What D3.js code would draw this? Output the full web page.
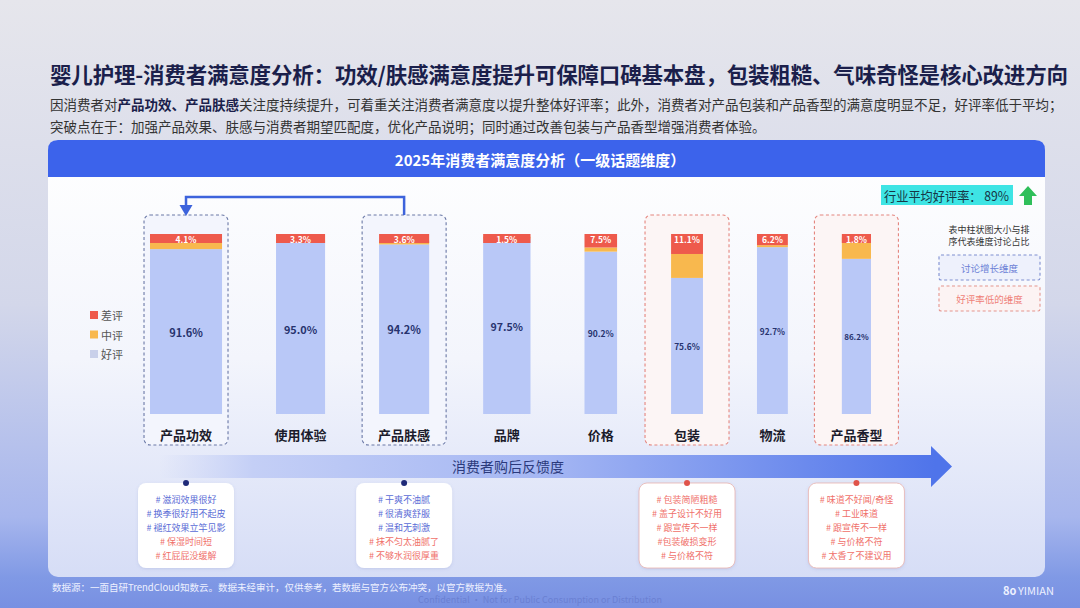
<!DOCTYPE html>
<html lang="zh">
<head>
<meta charset="UTF-8">
<style>
  html, body { margin: 0; padding: 0; }
  body { width: 1080px; height: 608px; overflow: hidden; font-family: "Noto Sans CJK SC", "Noto Sans", sans-serif; }
  text { font-family: "Noto Sans CJK SC", "Noto Sans", sans-serif; }
</style>
<script src="https://d3js.org/d3.v7.min.js"></script>
</head>
<body>
<svg id="chart" width="1080" height="608"></svg>
<script>
// ---- data ----
const categories = ['产品功效', '使用体验', '产品肤感', '品牌', '价格', '包装', '物流', '产品香型'];
const goodRate = [91.6, 95.0, 94.2, 97.5, 90.2, 75.6, 92.7, 86.2];   // 好评
const badRate  = [4.1, 3.3, 3.6, 1.5, 7.5, 11.1, 6.2, 1.8];          // 差评 (label on top)
const share    = [21.0, 14.3, 14.6, 13.8, 9.5, 9.3, 9.0, 8.5];       // 讨论占比 -> bar width (estimated)
const growthDims = ['产品功效', '产品肤感'];
const lowDims    = ['包装', '产品香型'];
const industryAvg = 89;
const legendLabels = ['差评', '中评', '好评'];

const feedbackDims = ['产品功效', '产品肤感', '包装', '产品香型'];
const feedbackPos = [
  ['# 滋润效果很好', '# 换季很好用不起皮', '# 褪红效果立竿见影'],
  ['# 干爽不油腻', '# 很清爽舒服', '# 温和无刺激'],
  [],
  []
];
const feedbackNeg = [
  ['# 保湿时间短', '# 红屁屁没缓解'],
  ['# 抹不匀太油腻了', '# 不够水润很厚重'],
  ['# 包装简陋粗糙', '# 盖子设计不好用', '# 跟宣传不一样', '#包装破损变形', '# 与价格不符'],
  ['# 味道不好闻/奇怪', '# 工业味道', '# 跟宣传不一样', '# 与价格不符', '# 太香了不建议用']
];

const colors = { bad: '#ee5a4c', mid: '#f8b84e', good: '#b9c8f7' };

const svg = d3.select('#chart');
const defs = svg.append('defs');

// page background
const bg = defs.append('linearGradient').attr('id', 'bgGrad').attr('x1', 0).attr('y1', 0).attr('x2', 0).attr('y2', 1);
bg.append('stop').attr('offset', '0').attr('stop-color', '#e6e6ec');
bg.append('stop').attr('offset', '0.5').attr('stop-color', '#d3d7ea');
bg.append('stop').attr('offset', '0.85').attr('stop-color', '#a7b6ed');
bg.append('stop').attr('offset', '0.95').attr('stop-color', '#8099e5');
bg.append('stop').attr('offset', '1').attr('stop-color', '#7890e2');
svg.append('rect').attr('width', 1080).attr('height', 608).attr('fill', 'url(#bgGrad)');

// panel
const pg = defs.append('linearGradient').attr('id', 'panelGrad').attr('x1', 0).attr('y1', 0).attr('x2', 0).attr('y2', 1);
pg.append('stop').attr('offset', '0').attr('stop-color', '#ffffff');
pg.append('stop').attr('offset', '0.5').attr('stop-color', '#f3f5fc');
pg.append('stop').attr('offset', '1').attr('stop-color', '#d6ddf6');

const shadow = defs.append('filter').attr('id', 'soft').attr('x', '-20%').attr('y', '-20%').attr('width', '140%').attr('height', '140%');
shadow.append('feDropShadow').attr('dx', 0).attr('dy', 1).attr('stdDeviation', 1.5)
  .attr('flood-color', '#6070b0').attr('flood-opacity', 0.18);

svg.append('rect').attr('x', 48).attr('y', 140).attr('width', 997).attr('height', 437)
  .attr('rx', 10).attr('fill', 'url(#panelGrad)');
svg.append('path')
  .attr('d', 'M48,177 V150 Q48,140 58,140 H1035 Q1045,140 1045,150 V177 Z')
  .attr('fill', '#3c63eb');
svg.append('text').attr('x', 540).attr('y', 159).attr('text-anchor', 'middle')
  .attr('dominant-baseline', 'central').attr('fill', '#fff')
  .attr('font-size', '15px').attr('font-weight', 'bold')
  .text('2025年消费者满意度分析（一级话题维度）');

// title + subtitle
svg.append('text').attr('x', 50).attr('y', 73).attr('dominant-baseline', 'central')
  .attr('fill', '#1b1f4b').attr('font-size', '21.5px').attr('font-weight', 'bold')
  .attr('textLength', 1018).attr('lengthAdjust', 'spacing')
  .text('婴儿护理-消费者满意度分析：功效/肤感满意度提升可保障口碑基本盘，包装粗糙、气味奇怪是核心改进方向');

const sub1 = svg.append('text').attr('x', 50).attr('y', 104).attr('dominant-baseline', 'central')
  .attr('fill', '#333').attr('font-size', '13.5px');
sub1.append('tspan').text('因消费者对');
sub1.append('tspan').attr('font-weight', 'bold').attr('fill', '#1b1f4b').text('产品功效、产品肤感');
sub1.append('tspan').text('关注度持续提升，可着重关注消费者满意度以提升整体好评率；此外，消费者对产品包装和产品香型的满意度明显不足，好评率低于平均；');
svg.append('text').attr('x', 50).attr('y', 126).attr('dominant-baseline', 'central')
  .attr('fill', '#333').attr('font-size', '13.5px')
  .text('突破点在于：加强产品效果、肤感与消费者期望匹配度，优化产品说明；同时通过改善包装与产品香型增强消费者体验。');

// ---- scales ----
const barTop = 234, barBottom = 414, x0 = 150, gap = 54;
const wScale = d3.scaleLinear().domain([0, d3.sum(share)]).range([0, 343]);
const y = d3.scaleLinear().domain([0, 100]).range([barBottom, barTop]);

const rows = categories.map((c, i) => ({
  cat: c, good: goodRate[i], bad: badRate[i],
  mid: +(100 - goodRate[i] - badRate[i]).toFixed(1), w: wScale(share[i])
}));
let cursor = x0;
rows.forEach(r => { r.x = cursor; r.cx = cursor + r.w / 2; cursor += r.w + gap; });
const byCat = new Map(rows.map(r => [r.cat, r]));

// highlight boxes
const hl = rows.filter(r => growthDims.includes(r.cat) || lowDims.includes(r.cat));
svg.append('g').selectAll('rect').data(hl).join('rect')
  .attr('x', d => d.cx - 42).attr('y', 215).attr('width', 84).attr('height', 230).attr('rx', 6)
  .attr('fill', d => growthDims.includes(d.cat) ? '#f3f5fd' : '#fcf5f5')
  .attr('stroke', d => growthDims.includes(d.cat) ? '#6a78a6' : '#e4857e')
  .attr('stroke-width', 1.1).attr('stroke-dasharray', '3,2.5');

// arrow from 产品肤感 to 产品功效
const a = byCat.get(growthDims[0]), b = byCat.get(growthDims[1]);
svg.append('path').attr('d', `M${b.cx},215 V197 H${a.cx} V207`)
  .attr('fill', 'none').attr('stroke', '#3d63dc').attr('stroke-width', 2.5);
svg.append('path').attr('d', `M${a.cx - 6.5},205 L${a.cx + 6.5},205 L${a.cx},216 Z`).attr('fill', '#3d63dc');

// stacked bars
const stack = d3.stack().keys(['good', 'mid', 'bad'])(rows);
const bars = svg.append('g');
stack.forEach(layer => {
  bars.append('g').selectAll('rect').data(layer).join('rect')
    .attr('x', d => d.data.x).attr('width', d => d.data.w)
    .attr('y', d => y(d[1]))
    .attr('height', d => {
      const h = y(d[0]) - y(d[1]);
      return layer.key === 'bad' ? Math.max(h, 9) : h;
    })
    .attr('fill', colors[layer.key]);
});

// labels
svg.append('g').selectAll('text').data(rows).join('text')
  .attr('x', d => d.cx).attr('y', d => y(100) + 5)
  .attr('text-anchor', 'middle').attr('dominant-baseline', 'central')
  .attr('fill', '#fff').attr('font-size', '8.5px').attr('font-weight', 'bold')
  .text(d => d.bad.toFixed(1) + '%');

const fs = d3.scaleLinear().domain([29, 50]).range([8, 11]).clamp(true);
svg.append('g').selectAll('text').data(rows).join('text')
  .attr('x', d => d.cx).attr('y', d => (y(0) + y(d.good)) / 2)
  .attr('text-anchor', 'middle').attr('dominant-baseline', 'central')
  .attr('fill', '#27336e').attr('font-weight', 'bold')
  .attr('font-size', d => fs(d.w) + 'px')
  .text(d => d.good.toFixed(1) + '%');

svg.append('g').selectAll('text').data(rows).join('text')
  .attr('x', d => d.cx).attr('y', 434)
  .attr('text-anchor', 'middle').attr('dominant-baseline', 'central')
  .attr('fill', '#1b1b2b').attr('font-size', '13px').attr('font-weight', 'bold')
  .text(d => d.cat);

// left legend
const legColors = [colors.bad, colors.mid, '#c9d0ea'];
const leg = svg.append('g').selectAll('g').data(legendLabels).join('g')
  .attr('transform', (d, i) => `translate(90, ${315 + i * 19.5})`);
leg.append('rect').attr('x', 0).attr('y', -4).attr('width', 8).attr('height', 8).attr('fill', (d, i) => legColors[i]);
leg.append('text').attr('x', 11).attr('y', 0).attr('dominant-baseline', 'central')
  .attr('fill', '#555').attr('font-size', '11px').text(d => d);

// industry average
svg.append('rect').attr('x', 881).attr('y', 185).attr('width', 132).attr('height', 20).attr('fill', '#3ee4e4');
svg.append('text').attr('x', 884).attr('y', 195.5).attr('dominant-baseline', 'central')
  .attr('fill', '#163646').attr('font-size', '13px')
  .attr('textLength', 125).attr('lengthAdjust', 'spacingAndGlyphs')
  .text(`行业平均好评率： ${industryAvg}%`);
svg.append('path').attr('d', 'M1028,186 L1037,196 L1032,196 L1032,205 L1024,205 L1024,196 L1019,196 Z')
  .attr('fill', '#2fbf5a');

svg.append('text').attr('x', 989).attr('y', 229).attr('text-anchor', 'middle').attr('dominant-baseline', 'central')
  .attr('fill', '#333').attr('font-size', '9px').text('表中柱状图大小与排');
svg.append('text').attr('x', 989).attr('y', 241).attr('text-anchor', 'middle').attr('dominant-baseline', 'central')
  .attr('fill', '#333').attr('font-size', '9px').text('序代表维度讨论占比');

const keyBoxes = [
  { label: '讨论增长维度', y: 255, fill: '#eef1fc', stroke: '#7f8fd0', color: '#6b7fd6' },
  { label: '好评率低的维度', y: 286, fill: '#fcf3f3', stroke: '#e4958e', color: '#ef7f78' }
];
const kb = svg.append('g').selectAll('g').data(keyBoxes).join('g');
kb.append('rect').attr('x', 939).attr('y', d => d.y).attr('width', 101).attr('height', 25).attr('rx', 2)
  .attr('fill', d => d.fill).attr('stroke', d => d.stroke).attr('stroke-width', 1.1).attr('stroke-dasharray', '3,2.5');
kb.append('text').attr('x', 989.5).attr('y', d => d.y + 12.5).attr('text-anchor', 'middle').attr('dominant-baseline', 'central')
  .attr('fill', d => d.color).attr('font-size', '9.5px').text(d => d.label);

// feedback arrow band
const band = defs.append('linearGradient').attr('id', 'bandGrad').attr('gradientUnits', 'userSpaceOnUse')
  .attr('x1', 160).attr('y1', 0).attr('x2', 935).attr('y2', 0);
band.append('stop').attr('offset', '0').attr('stop-color', '#c8d2f6').attr('stop-opacity', 0);
band.append('stop').attr('offset', '0.12').attr('stop-color', '#c4cff6');
band.append('stop').attr('offset', '0.5').attr('stop-color', '#a4b6f3');
band.append('stop').attr('offset', '1').attr('stop-color', '#4f74ea');
svg.append('path').attr('d', 'M160,455 H931 V446 L952,466.5 L931,487 V478 H160 Z').attr('fill', 'url(#bandGrad)');
svg.append('text').attr('x', 452).attr('y', 466).attr('dominant-baseline', 'central')
  .attr('fill', '#2b3a7c').attr('font-size', '14px').text('消费者购后反馈度');

// feedback boxes
feedbackDims.forEach((dim, i) => {
  const r = byCat.get(dim);
  const low = lowDims.includes(dim);
  const g = svg.append('g');
  g.append('rect').attr('x', r.cx - 48).attr('y', 483).attr('width', 96).attr('height', 85).attr('rx', 8)
    .attr('fill', '#fff').attr('stroke', low ? '#e7b3ae' : 'none').attr('stroke-width', 0.8)
    .attr('filter', 'url(#soft)');
  g.append('circle').attr('cx', r.cx).attr('cy', 483).attr('r', 3).attr('fill', low ? '#e0534a' : '#1f2a78');
  const lines = feedbackPos[i].map(t => ({ t, pos: true })).concat(feedbackNeg[i].map(t => ({ t, pos: false })));
  g.selectAll('text').data(lines).join('text')
    .attr('x', r.cx).attr('y', (d, j) => 499.5 + j * 14)
    .attr('text-anchor', 'middle').attr('dominant-baseline', 'central')
    .attr('font-size', '9px').attr('fill', d => d.pos ? '#5a6cd6' : '#f0706a')
    .text(d => d.t);
});

// footer
svg.append('text').attr('x', 52).attr('y', 587).attr('dominant-baseline', 'central')
  .attr('fill', '#eef1ff').attr('font-size', '9.5px')
  .text('数据源：一面自研TrendCloud知数云。数据未经审计，仅供参考，若数据与官方公布冲突，以官方数据为准。');
svg.append('text').attr('x', 540).attr('y', 599).attr('text-anchor', 'middle').attr('dominant-baseline', 'central')
  .attr('fill', '#6a80d2').attr('font-size', '9px')
  .text('Confidential · Not for Public Consumption or Distribution');
svg.append('text').attr('x', 1003).attr('y', 590).attr('dominant-baseline', 'central')
  .attr('fill', '#eef1ff').attr('font-size', '11px').attr('font-weight', 'bold').text('8o');
svg.append('text').attr('x', 1018).attr('y', 590).attr('dominant-baseline', 'central')
  .attr('fill', '#eef1ff').attr('font-size', '11px').text('YIMIAN');
</script>
</body>
</html>
